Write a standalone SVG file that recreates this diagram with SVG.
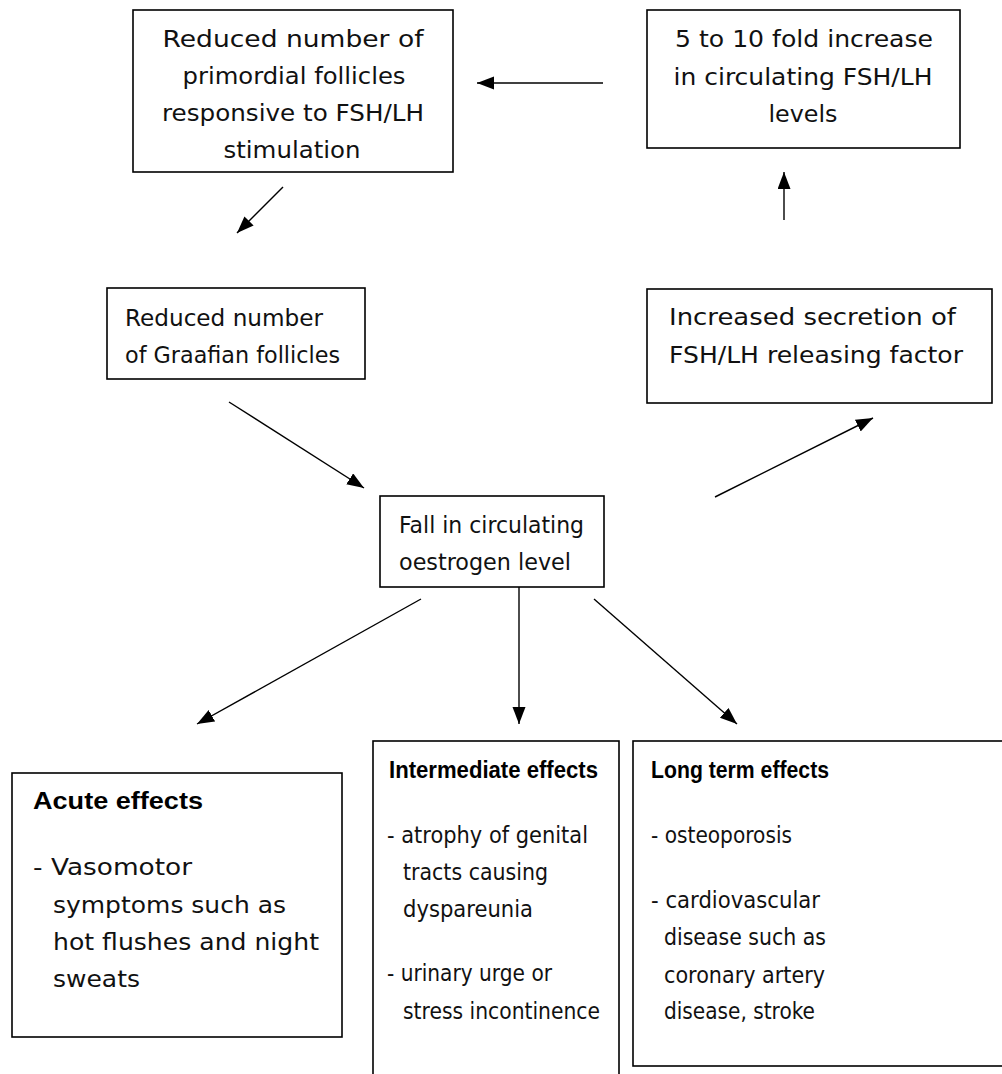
<svg xmlns="http://www.w3.org/2000/svg" width="1002" height="1074" viewBox="0 0 1002 1074">
<style>
.box{fill:#fff;stroke:#000;stroke-width:1.6}
.t{font-family:"DejaVu Sans","Liberation Sans",sans-serif;font-size:23px;fill:#111}
.c{text-anchor:middle}
.h{font-family:"Liberation Sans",sans-serif;font-weight:bold;font-size:23px;fill:#000}
.ln{stroke:#000;stroke-width:1.4;fill:none;marker-end:url(#ah)}
</style>
<defs>
<marker id="ah" markerUnits="userSpaceOnUse" markerWidth="18" markerHeight="14" refX="17" refY="6.5" orient="auto">
<path d="M0,0 L17,6.5 L0,13 z" fill="#000"/>
</marker>
</defs>
<rect width="1002" height="1074" fill="#fff"/>
<g id="primordial">
<rect class="box" x="133" y="10" width="320" height="162"/>
<text class="t c" x="293" y="47" textLength="261" lengthAdjust="spacingAndGlyphs">Reduced number of</text>
<text class="t c" x="294" y="84" textLength="223" lengthAdjust="spacingAndGlyphs">primordial follicles</text>
<text class="t c" x="293" y="121" textLength="262" lengthAdjust="spacingAndGlyphs">responsive to FSH/LH</text>
<text class="t c" x="292" y="158" textLength="137" lengthAdjust="spacingAndGlyphs">stimulation</text>
</g>
<g id="fsh-increase">
<rect class="box" x="647" y="10" width="313" height="138"/>
<text class="t c" x="804" y="47" textLength="258" lengthAdjust="spacingAndGlyphs">5 to 10 fold increase</text>
<text class="t c" x="803" y="85" textLength="259" lengthAdjust="spacingAndGlyphs">in circulating FSH/LH</text>
<text class="t c" x="803" y="122" textLength="69" lengthAdjust="spacingAndGlyphs">levels</text>
</g>
<g id="graafian">
<rect class="box" x="107" y="288" width="258" height="91"/>
<text class="t" x="125" y="326" textLength="198" lengthAdjust="spacingAndGlyphs">Reduced number</text>
<text class="t" x="125" y="363" textLength="215" lengthAdjust="spacingAndGlyphs">of Graafian follicles</text>
</g>
<g id="releasing">
<rect class="box" x="647" y="289" width="345" height="114"/>
<text class="t" x="669" y="325" textLength="287" lengthAdjust="spacingAndGlyphs">Increased secretion of</text>
<text class="t" x="669" y="363" textLength="294" lengthAdjust="spacingAndGlyphs">FSH/LH releasing factor</text>
</g>
<g id="oestrogen">
<rect class="box" x="380" y="496" width="224" height="91"/>
<text class="t" x="399" y="533" textLength="185" lengthAdjust="spacingAndGlyphs">Fall in circulating</text>
<text class="t" x="399" y="570" textLength="172" lengthAdjust="spacingAndGlyphs">oestrogen level</text>
</g>
<g id="acute">
<rect class="box" x="12" y="773" width="330" height="264"/>
<text class="h" x="33" y="809" textLength="170" lengthAdjust="spacingAndGlyphs">Acute effects</text>
<text class="t" x="33" y="875" textLength="159" lengthAdjust="spacingAndGlyphs">- Vasomotor</text>
<text class="t" x="53" y="913" textLength="233" lengthAdjust="spacingAndGlyphs">symptoms such as</text>
<text class="t" x="53" y="950" textLength="266" lengthAdjust="spacingAndGlyphs">hot flushes and night</text>
<text class="t" x="53" y="987" textLength="87" lengthAdjust="spacingAndGlyphs">sweats</text>
</g>
<g id="intermediate">
<rect class="box" x="373" y="741" width="246" height="360"/>
<text class="h" x="389" y="778" textLength="209" lengthAdjust="spacingAndGlyphs">Intermediate effects</text>
<text class="t" x="387" y="843" textLength="201" lengthAdjust="spacingAndGlyphs">- atrophy of genital</text>
<text class="t" x="403" y="880" textLength="145" lengthAdjust="spacingAndGlyphs">tracts causing</text>
<text class="t" x="403" y="917" textLength="130" lengthAdjust="spacingAndGlyphs">dyspareunia</text>
<text class="t" x="387" y="981" textLength="165" lengthAdjust="spacingAndGlyphs">- urinary urge or</text>
<text class="t" x="403" y="1019" textLength="197" lengthAdjust="spacingAndGlyphs">stress incontinence</text>
</g>
<g id="longterm">
<rect class="box" x="633" y="741" width="400" height="325"/>
<text class="h" x="651" y="778" textLength="178" lengthAdjust="spacingAndGlyphs">Long term effects</text>
<text class="t" x="651" y="843" textLength="141" lengthAdjust="spacingAndGlyphs">- osteoporosis</text>
<text class="t" x="651" y="908" textLength="169" lengthAdjust="spacingAndGlyphs">- cardiovascular</text>
<text class="t" x="664" y="945" textLength="162" lengthAdjust="spacingAndGlyphs">disease such as</text>
<text class="t" x="664" y="983" textLength="161" lengthAdjust="spacingAndGlyphs">coronary artery</text>
<text class="t" x="664" y="1019" textLength="151" lengthAdjust="spacingAndGlyphs">disease, stroke</text>
</g>
<g id="connectors">
<line class="ln" x1="603" y1="83" x2="477" y2="83"/>
<line class="ln" x1="283" y1="187" x2="237" y2="233"/>
<line class="ln" x1="229" y1="402" x2="364" y2="488"/>
<line class="ln" x1="421" y1="599" x2="197" y2="724"/>
<line class="ln" x1="519" y1="587" x2="519" y2="724"/>
<line class="ln" x1="594" y1="599" x2="737" y2="724"/>
<line class="ln" x1="715" y1="497" x2="873" y2="418"/>
<line class="ln" x1="784" y1="220" x2="784" y2="172"/>
</g>
</svg>
